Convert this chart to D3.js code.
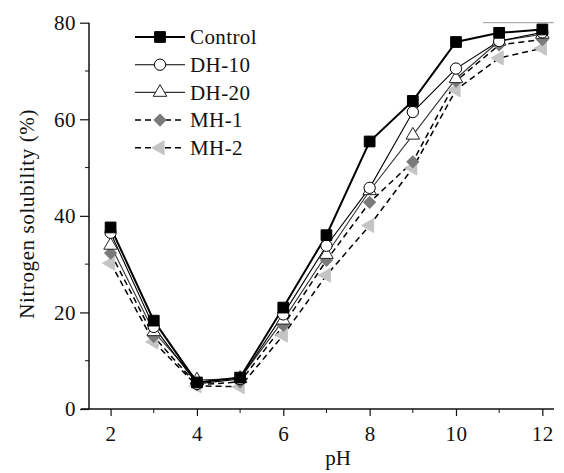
<!DOCTYPE html>
<html>
<head>
<meta charset="utf-8">
<script src="https://cdn.jsdelivr.net/npm/d3@7"></script>
<style>
  body { margin: 0; background: #fff; }
  svg text { font-family: "Liberation Serif", "Times New Roman", serif; fill: #111; }
</style>
</head>
<body>
<div class="solubilityChart"></div>
<script>
const pH = [2, 3, 4, 5, 6, 7, 8, 9, 10, 11, 12]

const control = [37.6, 18.3, 5.5, 6.5, 21.0, 36.0, 55.4, 63.8, 76.0, 77.9, 78.6]
const dh10 = [36.5, 17.0, 5.2, 6.2, 19.6, 33.8, 45.8, 61.5, 70.5, 76.2, 78.0]
const dh20 = [33.9, 16.0, 6.0, 6.3, 18.4, 32.0, 45.2, 56.7, 68.4, 76.2, 77.6]
const mh1 = [32.3, 15.0, 5.0, 5.6, 17.3, 30.8, 42.8, 51.2, 67.9, 75.4, 76.5]
const mh2 = [30.2, 13.9, 4.8, 4.6, 15.3, 27.7, 38.0, 49.9, 66.1, 72.7, 74.7]

const seriesNames = ['Control', 'DH-10', 'DH-20', 'MH-1', 'MH-2']
const xTicks = [2, 4, 6, 8, 10, 12]
const yTicks = [0, 20, 40, 60, 80]

const width = 564, height = 473
const margin = { top: 22.7, right: 10, bottom: 64, left: 89 }

const series = [
    { name: seriesNames[0], values: control, stroke: '#000', width: 2, dash: null, symbol: d3.symbolSquare, size: 115, fill: '#000', mstroke: '#000' },
    { name: seriesNames[1], values: dh10, stroke: '#000', width: 1.1, dash: null, symbol: d3.symbolCircle, size: 100, fill: '#fff', mstroke: '#000' },
    { name: seriesNames[2], values: dh20, stroke: '#333', width: 1.1, dash: null, symbol: d3.symbolTriangle, size: 80, fill: '#fff', mstroke: '#222' },
    { name: seriesNames[3], values: mh1, stroke: '#000', width: 1.5, dash: '6,4', symbol: d3.symbolSquare, size: 70, fill: '#7a7a7a', mstroke: '#7a7a7a', rotate: 45 },
    { name: seriesNames[4], values: mh2, stroke: '#000', width: 1.5, dash: '6,4', symbol: d3.symbolTriangle, size: 85, fill: '#c4c4c4', mstroke: '#c4c4c4', rotate: -90 }
]

const x = d3.scaleLinear()
    .domain([1.5, 12.27])
    .range([margin.left, width - margin.right])

const y = d3.scaleLinear()
    .domain([0, 80])
    .range([height - margin.bottom, margin.top])

const svg = d3.select(".solubilityChart")
    .append("svg")
    .attr("width", width)
    .attr("height", height)

// stray frame piece at the top right
svg.append("line")
    .attr("x1", x(10.63)).attr("x2", x(12.27))
    .attr("y1", y(80)).attr("y2", y(80))
    .attr("stroke", "#999").attr("stroke-width", 1)

// axes
const xAxis = svg.append("g")
    .attr("transform", `translate(0,${y(0)})`)
    .call(d3.axisBottom(x).tickValues(xTicks).tickSize(7).tickPadding(10).tickFormat(d3.format("d")))
xAxis.append("g").selectAll("line")
    .data([3, 5, 7, 9, 11])
    .join("line")
    .attr("x1", d => x(d)).attr("x2", d => x(d))
    .attr("y1", 0).attr("y2", 4)
    .attr("stroke", "#111")
xAxis.select(".domain").attr("d", `M${x(1.5) - 8},0H${x(12.27)}`)

const yAxis = svg.append("g")
    .attr("transform", `translate(${x(1.5)},0)`)
    .call(d3.axisLeft(y).tickValues(yTicks).tickSize(9).tickPadding(4))
yAxis.append("g").selectAll("line")
    .data([10, 30, 50, 70])
    .join("line")
    .attr("x1", 0).attr("x2", -4)
    .attr("y1", d => y(d)).attr("y2", d => y(d))
    .attr("stroke", "#111")
yAxis.select(".domain").attr("d", `M0,${y(80)}V${y(0)}`)

svg.selectAll(".domain").attr("stroke", "#111").attr("stroke-width", 1.5)
svg.selectAll(".tick line").attr("stroke", "#111").attr("stroke-width", 1.2)
svg.selectAll(".tick text")
    .style("font-family", '"Liberation Serif", serif')
    .style("font-size", "21px")
    .style("letter-spacing", "0.5px")
    .attr("fill", "#111")

svg.append("text")
    .attr("transform", `translate(27,${(y(0) + y(80)) / 2 - 2})rotate(-90)`)
    .attr("text-anchor", "middle")
    .attr("dy", "0.35em")
    .style("font-size", "21px")
    .style("letter-spacing", "0.6px")
    .text("Nitrogen solubility (%)")

svg.append("text")
    .attr("x", 338)
    .attr("y", 465)
    .attr("text-anchor", "middle")
    .style("font-size", "21px")
    .text("pH")

// lines
const line = d3.line()
    .x((d, i) => x(pH[i]))
    .y(d => y(d))

const drawOrder = [4, 3, 2, 1, 0]
const plot = svg.append("g")

drawOrder.forEach(k => {
    const s = series[k]
    plot.append("path")
        .datum(s.values)
        .attr("fill", "none")
        .attr("stroke", s.stroke)
        .attr("stroke-width", s.width)
        .attr("stroke-dasharray", s.dash)
        .attr("d", line)
})

drawOrder.forEach(k => {
    const s = series[k]
    plot.append("g")
        .selectAll("path")
        .data(s.values)
        .join("path")
        .attr("transform", (d, i) => `translate(${x(pH[i])},${y(d)})rotate(${s.rotate || 0})`)
        .attr("d", d3.symbol(s.symbol, s.size))
        .attr("fill", s.fill)
        .attr("stroke", s.mstroke)
        .attr("stroke-width", 1)
})

// legend
const legend = svg.append("g")
    .selectAll("g")
    .data(series)
    .join("g")
    .attr("transform", (d, i) => `translate(135,${37 + i * 27.7})`)

legend.append("line")
    .attr("x1", 0).attr("x2", 50)
    .attr("stroke", d => d.stroke)
    .attr("stroke-width", d => d.width)
    .attr("stroke-dasharray", d => d.dash)

legend.append("path")
    .attr("transform", d => `translate(25,0)rotate(${d.rotate || 0})`)
    .attr("d", d => d3.symbol(d.symbol, d.size)())
    .attr("fill", d => d.fill)
    .attr("stroke", d => d.mstroke)

legend.append("text")
    .attr("x", 55)
    .attr("dy", "0.35em")
    .style("font-size", "21px")
    .style("letter-spacing", "0.4px")
    .text(d => d.name)
</script>
</body>
</html>
